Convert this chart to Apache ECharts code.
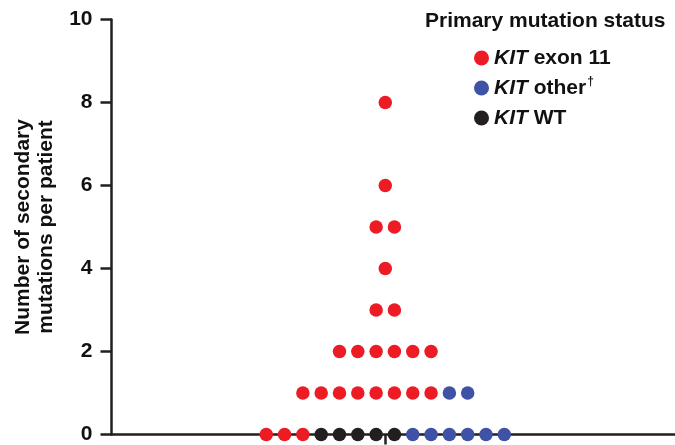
<!DOCTYPE html>
<html>
<head>
<meta charset="utf-8">
<script src="https://cdn.jsdelivr.net/npm/echarts@6/dist/echarts.min.js"></script>
<style>html,body{margin:0;padding:0;background:#fff}#c{width:675px;height:445px}</style>
</head>
<body>
<div id="c"></div>
<script>
// Number of secondary mutations (y rows) and number of patients in each group at that value
const rowValues   = [0, 1, 2, 3, 4, 5, 6, 8];
const exon11Count = [3, 8, 6, 2, 1, 2, 1, 1];
const wtCount     = [5, 0, 0, 0, 0, 0, 0, 0];
const otherCount  = [6, 2, 0, 0, 0, 0, 0, 0];
const seriesNames = ['KIT exon 11', 'KIT other\u2020', 'KIT WT'];
const yTicks = [0, 2, 4, 6, 8, 10];
const yTitleLines = ['Number of secondary', 'mutations per patient'];

const colors = { exon: '#ED1C24', other: '#3F52A5', wt: '#231F20' };
const FONT = 'Liberation Sans, Arial, Helvetica, sans-serif';

// beeswarm layout: in each row, dots are placed side by side, centred on 0
const exonData = [], otherData = [], wtData = [];
rowValues.forEach((y, r) => {
  const seq = [];
  for (let i = 0; i < exon11Count[r]; i++) seq.push('exon');
  for (let i = 0; i < wtCount[r]; i++) seq.push('wt');
  for (let i = 0; i < otherCount[r]; i++) seq.push('other');
  const n = seq.length;
  seq.forEach((g, i) => {
    const pt = [i - (n - 1) / 2, y];
    if (g === 'exon') exonData.push(pt);
    else if (g === 'wt') wtData.push(pt);
    else otherData.push(pt);
  });
});

const chart = echarts.init(document.getElementById('c'), null, { renderer: 'canvas' });
const axisColor = '#231F20';
const scatterBase = { type: 'scatter', symbol: 'circle', symbolSize: 13.5, clip: false, z: 5 };

chart.setOption({
  animation: false,
  textStyle: { fontFamily: FONT },
  title: {
    text: 'Primary mutation status',
    left: 420, top: 4,
    textStyle: { fontFamily: FONT, fontSize: 21, fontWeight: 'bold', color: '#111', lineHeight: 24 }
  },
  legend: {
    orient: 'vertical',
    left: 469, top: 41,
    icon: 'circle',
    itemWidth: 15, itemHeight: 15,
    itemGap: 6,
    data: seriesNames,
    formatter: function (name) {
      let rest = name.slice(3);
      if (rest.indexOf('\u2020') >= 0) {
        return '{i|KIT}{t|' + rest.replace('\u2020', '') + '}{sup|\u2020}';
      }
      return '{i|KIT}{t|' + rest + '}';
    },
    textStyle: {
      fontFamily: FONT, fontSize: 21, fontWeight: 'bold', color: '#111', lineHeight: 24,
      rich: {
        i: { fontFamily: FONT, fontSize: 21, fontWeight: 'bold', fontStyle: 'italic', color: '#111', lineHeight: 24 },
        t: { fontFamily: FONT, fontSize: 21, fontWeight: 'bold', color: '#111', lineHeight: 24 },
        sup: { fontFamily: FONT, fontSize: 12, fontWeight: 'bold', color: '#111', lineHeight: 24, verticalAlign: 'top', padding: [0, 0, 10, 1] }
      }
    }
  },
  grid: { left: 111.5, top: 19.5, right: 0, bottom: 7, containLabel: false },
  xAxis: {
    type: 'value',
    min: -14.95, max: 15.82,
    axisLine: { show: true, onZero: true, lineStyle: { color: axisColor, width: 2.5 } },
    axisTick: { show: true, customValues: [0], length: 10, inside: false, lineStyle: { color: axisColor, width: 2.5 } },
    axisLabel: { show: false },
    splitLine: { show: false }
  },
  yAxis: {
    type: 'value',
    min: 0, max: 10, interval: 2,
    name: yTitleLines.map(s => '{b|' + s + '}').join('\n'),
    nameLocation: 'middle',
    nameRotate: 90,
    nameGap: 54,
    nameTextStyle: {
      fontFamily: FONT, fontSize: 21, fontWeight: 'bold', color: '#111', lineHeight: 23, align: 'center',
      rich: { b: { fontFamily: FONT, fontSize: 21, fontWeight: 'bold', color: '#111', lineHeight: 23 } }
    },
    axisLine: { show: true, onZero: false, lineStyle: { color: axisColor, width: 2.5 } },
    axisTick: { show: true, length: 11, inside: false, lineStyle: { color: axisColor, width: 2.5 } },
    axisLabel: {
      margin: 19, fontFamily: FONT, fontSize: 21, fontWeight: 'bold', color: '#111',
      formatter: function (v) { return yTicks.indexOf(v) >= 0 ? String(v) : ''; }
    },
    splitLine: { show: false }
  },
  series: [
    Object.assign({}, scatterBase, { name: seriesNames[0], data: exonData, itemStyle: { color: colors.exon, opacity: 1 } }),
    Object.assign({}, scatterBase, { name: seriesNames[1], data: otherData, itemStyle: { color: colors.other, opacity: 1 } }),
    Object.assign({}, scatterBase, { name: seriesNames[2], data: wtData, itemStyle: { color: colors.wt, opacity: 1 } })
  ]
});
</script>
</body>
</html>
